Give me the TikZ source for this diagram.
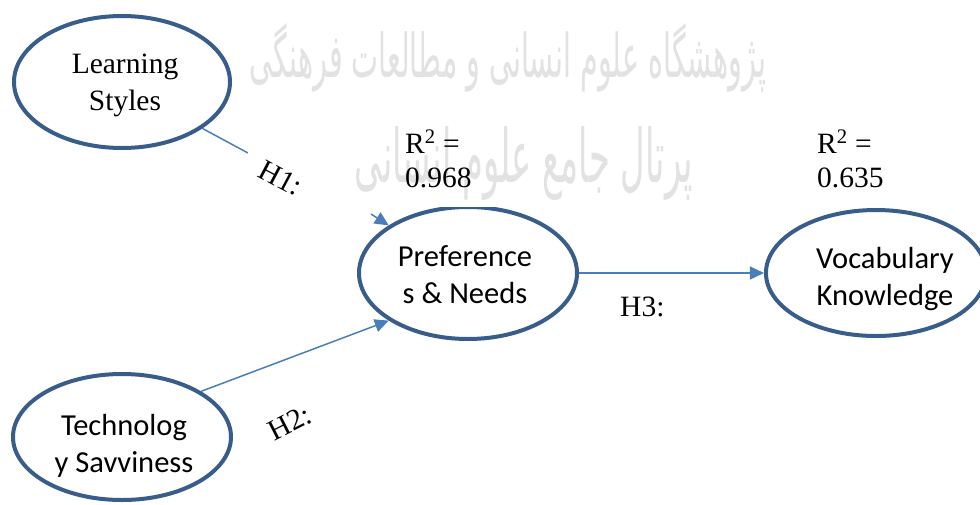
\documentclass[tikz,border=0pt]{standalone}
\usepackage{fontspec}
\usepackage{graphicx}
\setmainfont{Liberation Serif}
\newfontfamily\calib{Carlito}
\newfontfamily\arabicfont[Script=Arabic]{DejaVu Sans}
\TeXXeTstate=1
\usetikzlibrary{shapes.geometric,arrows.meta}
\definecolor{ellblue}{HTML}{385D8A}
\definecolor{lineblue}{HTML}{4A7EBB}
\definecolor{wmgray}{HTML}{E2E2E2}
\newcommand\lh[1]{\rule{0pt}{#1pt}}
\begin{document}
\begin{tikzpicture}[x=1pt,y=-1pt,
  latent/.style={ellipse,draw=ellblue,line width=4pt,inner sep=0pt,align=center,
    font=\calib\fontsize{30.5}{37}\selectfont},
  serifnode/.style={font=\fontsize{29.5}{37}\selectfont},
  conn/.style={draw=lineblue,line width=1.5pt},
  arr/.style={conn,-{Triangle[length=14pt,width=13pt]}},
  hlab/.style={font=\fontsize{29.5}{36}\selectfont,inner sep=0pt},
  rlab/.style={font=\fontsize{29.5}{34}\selectfont,align=left,inner sep=0pt,anchor=base west},
  wm/.style={text=wmgray,inner sep=0pt,font=\arabicfont}
]
\useasboundingbox (0,0) rectangle (980,504);

% constructs
\node[latent,serifnode,minimum width=216pt,minimum height=132pt] (ls) at (122,82)
  {\hspace*{6pt}\lh{27}Learning\\\hspace*{6pt}Styles};
\node[latent,minimum width=218pt,minimum height=132pt] (pref) at (468,273)
  {\lh{25}Preference\hspace*{6pt}\\s \& Needs\hspace*{6pt}};
\node[latent,minimum width=203pt,minimum height=126pt] (voc) at (876,273)
  {\hspace*{18pt}\lh{33}Vocabulary\\\hspace*{18pt}Knowledge};
\node[latent,minimum width=218pt,minimum height=126pt] (tech) at (122,437)
  {\hspace*{4pt}\lh{39}Technolog\\\hspace*{4pt}y Savviness};

% paths
\coordinate (h1cut) at (248,153);
\coordinate (h1resume) at (371,214);
\draw[conn] (ls.-30) -- (h1cut);
\draw[arr] (tech.30) -- (pref.211);
\draw[arr] (pref.east) -- (voc.west);

% watermark area
\fill[white] (248,0) rectangle (975,207);
\node[wm] (wm1) at (508,58) {\resizebox{516pt}{54pt}{\beginR پژوهشگاه علوم انسانی و مطالعات فرهنگی\endR}};
\node[wm] (wm2) at (524,163) {\resizebox{338pt}{56pt}{\beginR پرتال جامع علوم انسانی\endR}};

\draw[arr] (h1resume) -- (pref.149);

% labels
\node[hlab,rotate=-28] (h1) at (281,178) {H1:};
\node[hlab,rotate=27] (h2) at (290,423) {H2:};
\node[hlab,anchor=base west] (h3) at (620,316) {H3:};
\node[rlab] (r1) at (405,187) {R\textsuperscript{2} =\\0.968};
\node[rlab] (r2) at (817,187) {R\textsuperscript{2} =\\0.635};
\end{tikzpicture}
\end{document}
